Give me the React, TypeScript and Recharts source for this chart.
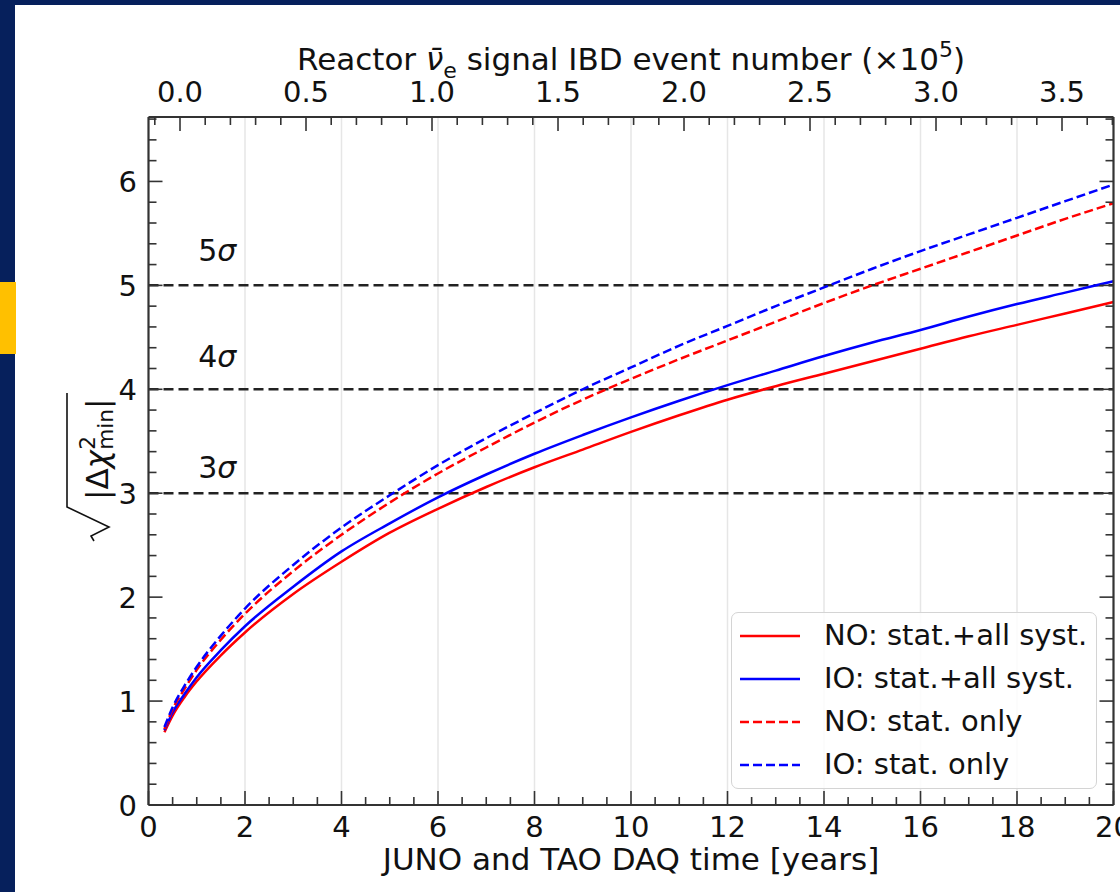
import React from "react";
import {
  LineChart,
  Line,
  XAxis,
  YAxis,
  ReferenceLine,
  ReferenceDot,
  Legend,
} from "recharts";

// DAQ time in years, and sqrt(|dchi2_min|) for each ordering / systematics case
const YEARS = [0.33, 0.5, 0.75, 1, 1.5, 2, 3, 4, 5, 6, 7, 8, 9, 10, 11, 12, 13, 14, 15, 16, 17, 18, 19, 20];
const NO_SYST = [0.7, 0.86, 1.04, 1.19, 1.44, 1.66, 2.03, 2.34, 2.62, 2.85, 3.06, 3.25, 3.42, 3.59, 3.75, 3.9, 4.03, 4.15, 4.27, 4.39, 4.51, 4.62, 4.73, 4.84];
const IO_SYST = [0.72, 0.89, 1.07, 1.23, 1.49, 1.72, 2.1, 2.44, 2.71, 2.96, 3.18, 3.38, 3.56, 3.73, 3.89, 4.04, 4.18, 4.32, 4.45, 4.57, 4.7, 4.82, 4.93, 5.04];
const NO_STAT = [0.73, 0.92, 1.12, 1.3, 1.59, 1.84, 2.25, 2.6, 2.91, 3.19, 3.44, 3.68, 3.9, 4.1, 4.29, 4.47, 4.65, 4.83, 5.0, 5.16, 5.32, 5.48, 5.64, 5.79];
const IO_STAT = [0.75, 0.94, 1.15, 1.33, 1.63, 1.89, 2.31, 2.67, 2.98, 3.27, 3.53, 3.77, 4.0, 4.21, 4.42, 4.61, 4.8, 4.98, 5.16, 5.33, 5.49, 5.65, 5.81, 5.97];

const SERIES_KEYS = ["noSyst", "ioSyst", "noStat", "ioStat"];
const SERIES_NAMES = ["NO: stat.+all syst.", "IO: stat.+all syst.", "NO: stat. only", "IO: stat. only"];

const SIGMA_LEVELS = [3, 4, 5];
const SIGMA_LABELS = ["3", "4", "5"];

const GRID_YEARS = [2, 4, 6, 8, 10, 12, 14, 16, 18];

// top axis: reactor IBD events (x1e5), tied to DAQ time
const IBD_AT_ZERO_YEARS = 0.653; // years at which the IBD axis reads 0
const YEARS_PER_IBD = 5.2228; // years per 1e5 events on the top scale
const IBD_TICKS = Array.from({ length: 39 }, (_, i) => (i - 1) / 10);
const TOP_TICKS = IBD_TICKS.map((v) => IBD_AT_ZERO_YEARS + v * YEARS_PER_IBD);

// tick positions (all ticks, majors picked out when drawing)
const BOTTOM_TICKS = Array.from({ length: 41 }, (_, i) => i * 0.5);
const Y_TICKS = Array.from({ length: 34 }, (_, i) => Math.round(i * 2) / 10);

const chartData = YEARS.map((t, i) => ({
  t,
  noSyst: NO_SYST[i],
  ioSyst: IO_SYST[i],
  noStat: NO_STAT[i],
  ioStat: IO_STAT[i],
}));

const FONT = "'DejaVu Sans', Verdana, sans-serif";
const TXT = "#111";
const AXIS = "#333";
const NAVY = "#06205c";
const LINE_COLORS = ["#ff0000", "#0000ff", "#ff0000", "#0000ff"];
const LINE_DASH = [undefined, undefined, "9 4", "9 4"];
const SIGMA_TEXT_X = 1.03;
const SIGMA_TEXT_OFFSET = [0.15, 0.21, 0.23];

const isMult = (v: number, step: number) => {
  const q = v / step;
  return Math.abs(q - Math.round(q)) < 1e-6;
};

const MAJOR = 14;
const MINOR = 8;
const TICK_FONT = 29;

const BottomTick = (p: any) => {
  const v = p.payload.value;
  const major = isMult(v, 2);
  return (
    <g>
      <line x1={p.x} y1={p.y} x2={p.x} y2={p.y - (major ? MAJOR : MINOR)} stroke={AXIS} strokeWidth={1.6} />
      {major && (
        <text x={p.x} y={p.y + 32} textAnchor="middle" fontSize={TICK_FONT} fill={TXT} fontFamily={FONT}>
          {Math.round(v)}
        </text>
      )}
    </g>
  );
};

const TopTick = (p: any) => {
  const ibd = Math.round(((p.payload.value - IBD_AT_ZERO_YEARS) / YEARS_PER_IBD) * 10) / 10;
  const major = isMult(ibd, 0.5);
  return (
    <g>
      <line x1={p.x} y1={p.y} x2={p.x} y2={p.y + (major ? MAJOR : MINOR)} stroke={AXIS} strokeWidth={1.6} />
      {major && (
        <text x={p.x} y={p.y - 15} textAnchor="middle" fontSize={TICK_FONT} fill={TXT} fontFamily={FONT}>
          {Math.abs(ibd).toFixed(1)}
        </text>
      )}
    </g>
  );
};

const LeftTick = (p: any) => {
  const v = p.payload.value;
  const major = isMult(v, 1);
  return (
    <g>
      <line x1={p.x} y1={p.y} x2={p.x + (major ? MAJOR : MINOR)} y2={p.y} stroke={AXIS} strokeWidth={1.6} />
      {major && (
        <text x={p.x - 11.5} y={p.y + 10.5} textAnchor="end" fontSize={TICK_FONT} fill={TXT} fontFamily={FONT}>
          {Math.round(v)}
        </text>
      )}
    </g>
  );
};

const RightTick = (p: any) => {
  const v = p.payload.value;
  const major = isMult(v, 1);
  return (
    <line x1={p.x} y1={p.y} x2={p.x - (major ? MAJOR : MINOR)} y2={p.y} stroke={AXIS} strokeWidth={1.6} />
  );
};

const BottomTitle = (props: any) => {
  const vb = props.viewBox;
  return (
    <text x={vb.x + vb.width / 2} y={vb.y + 65} textAnchor="middle" fontSize={31} fill={TXT} fontFamily={FONT}>
      JUNO and TAO DAQ time [years]
    </text>
  );
};

const TopTitle = (props: any) => {
  const vb = props.viewBox;
  return (
    <text x={vb.x + vb.width / 2} y={vb.y + 23} textAnchor="middle" fontSize={31} fill={TXT} fontFamily={FONT}>
      Reactor <tspan fontStyle="italic">{"\u03BD\u0304"}</tspan>
      <tspan fontSize={22} dy={8}>e</tspan>
      <tspan dy={-8}> signal IBD event number (×10</tspan>
      <tspan fontSize={22} dy={-13}>5</tspan>
      <tspan dy={13}>)</tspan>
    </text>
  );
};

const YTitle = (props: any) => {
  const vb = props.viewBox;
  const cx = vb.x + 19.5;
  const cy = vb.y + vb.height / 2;
  return (
    <g transform={`translate(${cx},${cy}) rotate(-90)`} fontFamily={FONT} fill={TXT}>
      <path d="M-80,-14 L-75,-17 L-66,1 L-46,-41 L68,-41" fill="none" stroke={TXT} strokeWidth={1.6} />
      <text x={-39} y={0} fontSize={31}>|Δ</text>
      <text x={-7.4} y={0} fontSize={31} fontStyle="italic">χ</text>
      <text x={11.2} y={-13} fontSize={21.7}>2</text>
      <text x={11.2} y={5} fontSize={21.7}>min</text>
      <text x={52} y={0} fontSize={31}>|</text>
    </g>
  );
};

const SigmaText = (label: string) => (p: any) => (
  <text x={p.cx} y={p.cy} fontSize={30} fill={TXT} fontFamily={FONT}>
    {label}
    <tspan fontStyle="italic">σ</tspan>
  </text>
);

const LegendBox = (props: any) => {
  const payload = [...(props.payload || [])].sort(
    (a: any, b: any) => SERIES_KEYS.indexOf(a.dataKey) - SERIES_KEYS.indexOf(b.dataKey)
  );
  return (
    <div
      style={{
        width: 366,
        height: 177,
        boxSizing: "border-box",
        border: "1.5px solid #d4d4d4",
        borderRadius: 7,
        background: "rgba(255,255,255,0.85)",
        paddingTop: 1,
      }}
    >
      {payload.map((entry: any) => {
        const idx = SERIES_KEYS.indexOf(entry.dataKey);
        return (
          <div key={`leg-${entry.dataKey}`} style={{ height: 43, display: "flex", alignItems: "center" }}>
            <svg width={60} height={6} style={{ marginLeft: 8, flex: "none" }}>
              <line
                x1={0}
                y1={3}
                x2={60}
                y2={3}
                stroke={LINE_COLORS[idx]}
                strokeWidth={2.5}
                strokeDasharray={LINE_DASH[idx]}
              />
            </svg>
            <span
              style={{
                marginLeft: 24,
                fontSize: 29,
                fontFamily: FONT,
                color: TXT,
                lineHeight: "43px",
                whiteSpace: "nowrap",
              }}
            >
              {SERIES_NAMES[idx]}
            </span>
          </div>
        );
      })}
    </div>
  );
};

export default function App() {
  return (
    <div style={{ position: "absolute", left: 0, top: 0, width: 1120, height: 892, background: NAVY, overflow: "hidden" }}>
      <div style={{ position: "absolute", left: 15, top: 5, right: 0, bottom: 0, background: "#fff" }} />
      <div style={{ position: "absolute", left: 0, top: 282, width: 16, height: 72, background: "#ffc000" }} />
      <div style={{ position: "absolute", left: 0, top: 0 }}>
        <LineChart width={1120} height={892} data={chartData} margin={{ top: 47, right: 1.5, bottom: 17, left: 88.5 }}>
          <XAxis
            xAxisId="b"
            dataKey="t"
            type="number"
            orientation="bottom"
            domain={[0, 20]}
            allowDataOverflow
            ticks={BOTTOM_TICKS}
            interval={0}
            height={70}
            tickSize={0}
            tickMargin={0}
            tickLine={false}
            tick={BottomTick}
            axisLine={{ stroke: AXIS, strokeWidth: 2.2 }}
            label={{ content: BottomTitle }}
          />
          <XAxis
            xAxisId="t"
            dataKey="t"
            type="number"
            orientation="top"
            domain={[0, 20]}
            allowDataOverflow
            ticks={TOP_TICKS}
            interval={0}
            height={70}
            tickSize={0}
            tickMargin={0}
            tickLine={false}
            tick={TopTick}
            axisLine={{ stroke: AXIS, strokeWidth: 2.2 }}
            label={{ content: TopTitle }}
          />
          <YAxis
            yAxisId="l"
            type="number"
            orientation="left"
            domain={[0, 6.62]}
            allowDataOverflow
            ticks={Y_TICKS}
            interval={0}
            width={60}
            tickSize={0}
            tickMargin={0}
            tickLine={false}
            tick={LeftTick}
            axisLine={{ stroke: AXIS, strokeWidth: 2.2 }}
            label={{ content: YTitle }}
          />
          <YAxis
            yAxisId="r"
            type="number"
            orientation="right"
            domain={[0, 6.62]}
            allowDataOverflow
            ticks={Y_TICKS}
            interval={0}
            width={5}
            tickSize={0}
            tickMargin={0}
            tickLine={false}
            tick={RightTick}
            axisLine={{ stroke: AXIS, strokeWidth: 2.2 }}
          />

          {GRID_YEARS.map((g) => (
            <ReferenceLine key={`grid-${g}`} x={g} xAxisId="b" yAxisId="l" stroke="#e6e6e6" strokeWidth={1.5} />
          ))}

          {SIGMA_LEVELS.map((s) => (
            <ReferenceLine
              key={`sig-${s}`}
              y={s}
              xAxisId="b"
              yAxisId="l"
              stroke="#222"
              strokeWidth={2.5}
              strokeDasharray="10 5"
            />
          ))}

          {SIGMA_LEVELS.map((s, i) => (
            <ReferenceDot
              key={`sigtxt-${s}`}
              x={SIGMA_TEXT_X}
              y={s + SIGMA_TEXT_OFFSET[i]}
              xAxisId="b"
              yAxisId="l"
              r={1}
              shape={SigmaText(SIGMA_LABELS[i])}
            />
          ))}

          {SERIES_KEYS.map((k, i) => (
            <Line
              key={k}
              xAxisId="b"
              yAxisId="l"
              type="monotone"
              dataKey={k}
              name={SERIES_NAMES[i]}
              stroke={LINE_COLORS[i]}
              strokeWidth={2.5}
              strokeDasharray={LINE_DASH[i]}
              dot={false}
              activeDot={false}
              isAnimationActive={false}
            />
          ))}

          <Legend
            layout="vertical"
            align="center"
            verticalAlign="middle"
            content={LegendBox}
            wrapperStyle={{ left: 731, top: 612, width: 366, height: 177 }}
          />
        </LineChart>
      </div>
    </div>
  );
}
